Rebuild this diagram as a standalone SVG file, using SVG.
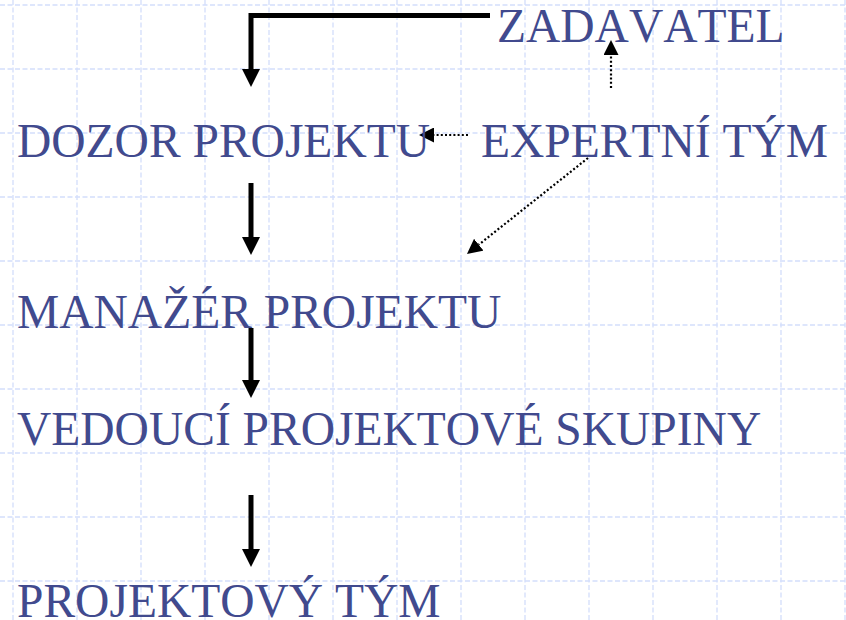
<svg xmlns="http://www.w3.org/2000/svg" width="846" height="620" viewBox="0 0 846 620">
<style>
.grid{stroke:#d3defb;stroke-width:1.3;stroke-dasharray:5 2.5;fill:none}
.lbl{font-family:"Liberation Serif","Times New Roman",serif;font-size:47.5px;fill:#414a8e;font-kerning:none}
.thick{stroke:#000;stroke-width:5;fill:none}
.dot{stroke:#000;stroke-width:2.2;stroke-dasharray:2 2.2;fill:none}
</style>
<defs>
<marker id="ah" markerUnits="userSpaceOnUse" markerWidth="18" markerHeight="18" refX="0" refY="9" orient="auto" viewBox="0 0 18 18">
<path d="M0,0 L18,9 L0,18 Z" fill="#000"/>
</marker>
<marker id="ad" markerUnits="userSpaceOnUse" markerWidth="15" markerHeight="15" refX="0" refY="7.5" orient="auto" viewBox="0 0 15 15">
<path d="M0,0 L15,7.5 L0,15 Z" fill="#000"/>
</marker>
</defs>
<rect width="846" height="620" fill="#fff"/>
<g id="grid" class="grid">
<path d="M13,0V620M77,0V620M141,0V620M205,0V620M269,0V620M333,0V620M397,0V620M461,0V620M525,0V620M589,0V620M653,0V620M717,0V620M781,0V620M845,0V620"/>
<path d="M0,5H846M0,69H846M0,133H846M0,197H846M0,261H846M0,325H846M0,389H846M0,453H846M0,517H846M0,581H846"/>
</g>
<g id="connectors">
<path class="thick" d="M490,15.5 H251 V69" marker-end="url(#ah)"/>
<path class="thick" d="M251,183 V237" marker-end="url(#ah)"/>
<path class="thick" d="M251,328 V380" marker-end="url(#ah)"/>
<path class="thick" d="M251,495 V549" marker-end="url(#ah)"/>
<path class="dot" d="M611,88 V55" marker-end="url(#ad)"/>
<path class="dot" d="M468,135 H434" marker-end="url(#ad)"/>
<path class="dot" d="M588,158 L478.7,244.7" marker-end="url(#ad)"/>
</g>
<g id="zadavatel"><text class="lbl" x="497" y="42">ZADAVATEL</text></g>
<g id="dozor"><text class="lbl" x="17" y="157">DOZOR PROJEKTU</text></g>
<g id="expertni"><text class="lbl" x="481" y="157">EXPERTNÍ TÝM</text></g>
<g id="manazer"><text class="lbl" x="17" y="328">MANAŽÉR PROJEKTU</text></g>
<g id="vedouci"><text class="lbl" x="17" y="445">VEDOUCÍ PROJEKTOVÉ SKUPINY</text></g>
<g id="tym"><text class="lbl" x="17" y="617">PROJEKTOVÝ TÝM</text></g>
</svg>
